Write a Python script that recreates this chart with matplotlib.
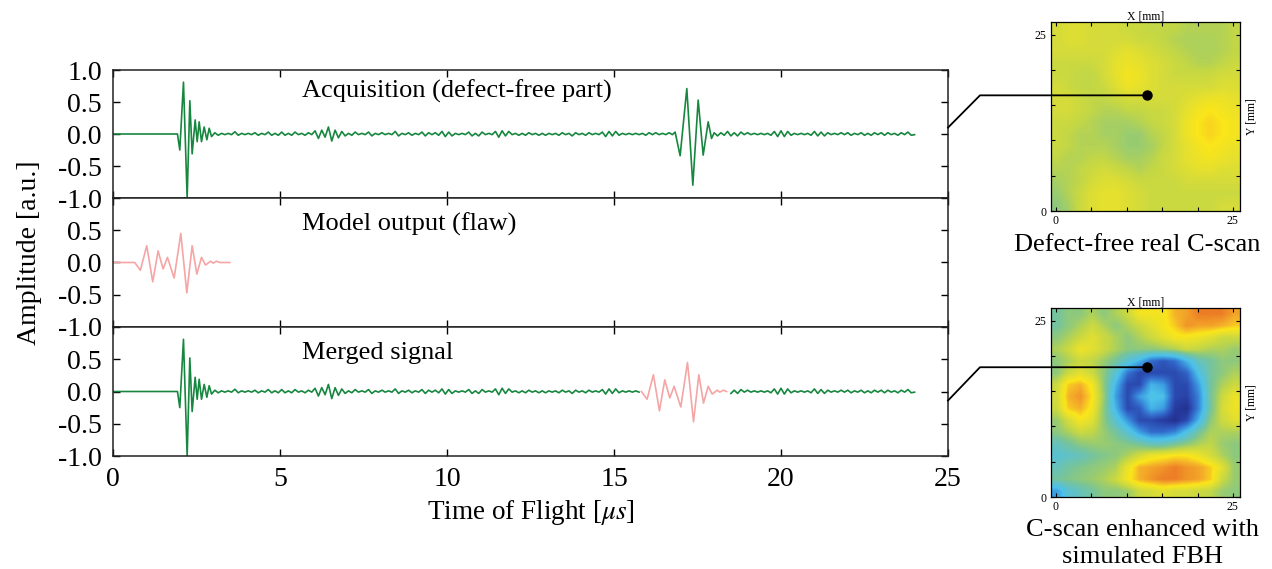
import numpy as np
import matplotlib
matplotlib.use("Agg")
import matplotlib.pyplot as plt
from matplotlib.colors import LinearSegmentedColormap
from matplotlib.lines import Line2D

plt.rcParams['font.family'] = ['Liberation Serif', 'DejaVu Serif']
plt.rcParams['mathtext.fontset'] = 'stix'
plt.rcParams['axes.unicode_minus'] = False

# ---------------- data ----------------
# acquisition, first echo (extrema: time [us], amplitude [a.u.])
pulse1_t = [0.0, 1.93, 2.00, 2.11, 2.22, 2.30, 2.37, 2.46, 2.52, 2.58, 2.65, 2.73, 2.81, 2.88, 2.95]
pulse1_a = [0.0, 0.0, -0.25, 0.81, -1.0, 0.52, -0.31, 0.22, -0.12, 0.19, -0.12, 0.11, -0.09, 0.09, -0.04]

# backscatter noise between the echoes, one extremum every 0.1 us from 3.05 us
noise1_start = 3.05
noise1_a = [0.02, -0.02, 0.01, -0.01, 0.01, -0.01, 0.035, -0.02, 0.01,
            -0.01, 0.01, -0.01, 0.02, -0.02, 0.01, -0.01, 0.03, -0.02, 0.01,
            -0.02, 0.03, -0.02, 0.01, -0.02, 0.03, -0.01, 0.01, -0.02, 0.02,
            -0.01, 0.05, -0.07, 0.06, -0.05, 0.11, -0.11, 0.06, -0.06, 0.04,
            -0.03, 0.01, -0.02, 0.03, -0.01, 0.01, -0.01, 0.03, -0.03, 0.01,
            -0.01, 0.02, -0.01, 0.01, -0.01, 0.04, -0.03, 0.01, -0.01, 0.02,
            -0.02, 0.01, -0.01, 0.03, -0.03, 0.02, -0.01, 0.02, -0.02, 0.04,
            -0.04, 0.03, -0.03, 0.01, -0.01, 0.01, -0.01, 0.03, -0.03, 0.01,
            -0.03, 0.03, -0.01, 0.01, -0.01, 0.04, -0.05, 0.05, -0.03, 0.04,
            -0.01, 0.01, -0.02, 0.01, -0.02, 0.02, -0.01, 0.01, -0.02, 0.01,
            -0.02, 0.01, -0.01, 0.01, -0.02, 0.02, -0.01, 0.01, -0.03, 0.02,
            -0.01, 0.01, -0.02, 0.02, -0.01, 0.01, -0.01, 0.03, -0.04, 0.04,
            -0.03, 0.04, -0.02, 0.01, -0.01, 0.01, -0.01, 0.01, -0.01, 0.01,
            -0.02, 0.02, -0.01, 0.02, -0.01, 0.01, -0.01, 0.02]

# back-wall echo
echo2_t = [16.75, 16.83, 16.98, 17.18, 17.36, 17.52, 17.67, 17.82, 17.92]
echo2_a = [-0.01, 0.03, -0.34, 0.71, -0.80, 0.53, -0.33, 0.19, -0.07]

# noise after the back-wall echo, every 0.1 us from 18.0 us
noise2_start = 18.0
noise2_a = [0.02, -0.03, 0.02, -0.02, 0.04, -0.03, 0.02, -0.03, 0.03, -0.01,
            0.02, -0.01, 0.01, -0.01, 0.01, -0.01, 0.01, -0.02, 0.04, -0.04,
            0.05, -0.04, 0.04, -0.02, 0.01, -0.01, 0.01, -0.01, 0.01, -0.02,
            0.04, -0.03, 0.03, -0.03, 0.02, -0.01, 0.01, -0.01, 0.02, -0.01,
            0.02, -0.02, 0.01, -0.01, 0.02, -0.02, 0.01, -0.02, 0.02, -0.01,
            0.02, -0.02, 0.02, -0.01, 0.01, -0.02, 0.02, -0.01, 0.03, -0.02,
            -0.01]

# model output (flaw echo)
model_t = [0.0, 0.65, 0.82, 1.01, 1.19, 1.35, 1.50, 1.63, 1.83, 2.03, 2.21, 2.37,
           2.51, 2.65, 2.77, 2.92, 3.00, 3.10, 3.20, 3.50]
model_a = [0.0, 0.0, -0.12, 0.26, -0.30, 0.18, -0.10, 0.08, -0.24, 0.45, -0.47, 0.26,
           -0.18, 0.08, -0.04, 0.02, -0.01, 0.02, 0.0, 0.0]

# merge: flaw echo placed at the back-wall echo position
flaw_shift = 15.17
merge_window = (15.80, 18.42)

# C-scans (normalised amplitude, rows from top)
cscan_free = [
    [0.72, 0.74, 0.74, 0.72, 0.72, 0.72, 0.70, 0.70, 0.68, 0.68, 0.68, 0.66, 0.66, 0.66, 0.66, 0.68],
    [0.72, 0.74, 0.74, 0.72, 0.72, 0.72, 0.72, 0.70, 0.70, 0.68, 0.66, 0.65, 0.65, 0.65, 0.66, 0.68],
    [0.72, 0.72, 0.72, 0.72, 0.72, 0.74, 0.76, 0.74, 0.72, 0.70, 0.68, 0.66, 0.65, 0.65, 0.66, 0.68],
    [0.70, 0.70, 0.70, 0.70, 0.72, 0.76, 0.78, 0.76, 0.74, 0.72, 0.70, 0.68, 0.66, 0.66, 0.68, 0.70],
    [0.70, 0.70, 0.68, 0.68, 0.72, 0.76, 0.80, 0.78, 0.74, 0.72, 0.70, 0.70, 0.70, 0.70, 0.72, 0.72],
    [0.72, 0.70, 0.68, 0.68, 0.70, 0.74, 0.78, 0.76, 0.74, 0.72, 0.72, 0.72, 0.72, 0.72, 0.74, 0.74],
    [0.72, 0.72, 0.70, 0.68, 0.68, 0.70, 0.72, 0.72, 0.72, 0.72, 0.72, 0.74, 0.76, 0.78, 0.78, 0.76],
    [0.72, 0.72, 0.70, 0.68, 0.66, 0.66, 0.68, 0.68, 0.70, 0.70, 0.72, 0.76, 0.80, 0.82, 0.80, 0.78],
    [0.70, 0.70, 0.68, 0.66, 0.64, 0.64, 0.64, 0.66, 0.68, 0.70, 0.72, 0.78, 0.82, 0.84, 0.82, 0.80],
    [0.70, 0.68, 0.66, 0.66, 0.64, 0.64, 0.62, 0.62, 0.66, 0.68, 0.72, 0.78, 0.82, 0.84, 0.82, 0.80],
    [0.70, 0.68, 0.66, 0.66, 0.66, 0.64, 0.62, 0.62, 0.64, 0.68, 0.72, 0.76, 0.80, 0.82, 0.80, 0.78],
    [0.68, 0.66, 0.66, 0.68, 0.68, 0.66, 0.64, 0.64, 0.66, 0.70, 0.72, 0.76, 0.78, 0.80, 0.78, 0.76],
    [0.66, 0.66, 0.68, 0.70, 0.72, 0.70, 0.68, 0.66, 0.68, 0.70, 0.72, 0.74, 0.76, 0.76, 0.74, 0.74],
    [0.64, 0.66, 0.68, 0.72, 0.74, 0.74, 0.72, 0.70, 0.70, 0.70, 0.70, 0.72, 0.72, 0.72, 0.72, 0.72],
    [0.62, 0.66, 0.70, 0.74, 0.76, 0.76, 0.74, 0.72, 0.70, 0.70, 0.70, 0.70, 0.70, 0.70, 0.70, 0.70],
    [0.60, 0.64, 0.70, 0.74, 0.76, 0.76, 0.74, 0.72, 0.70, 0.70, 0.70, 0.70, 0.70, 0.70, 0.72, 0.72],
]
cscan_fbh = [
    [0.55, 0.60, 0.60, 0.65, 0.60, 0.65, 0.70, 0.80, 0.80, 0.80, 0.88, 0.90, 0.95, 0.95, 0.95, 0.90],
    [0.55, 0.60, 0.65, 0.70, 0.65, 0.60, 0.65, 0.70, 0.75, 0.80, 0.85, 0.92, 0.90, 0.90, 0.88, 0.85],
    [0.60, 0.65, 0.70, 0.75, 0.70, 0.65, 0.60, 0.65, 0.70, 0.75, 0.80, 0.80, 0.78, 0.75, 0.70, 0.70],
    [0.65, 0.70, 0.78, 0.75, 0.70, 0.65, 0.60, 0.60, 0.60, 0.62, 0.65, 0.70, 0.68, 0.65, 0.65, 0.62],
    [0.60, 0.65, 0.70, 0.68, 0.62, 0.55, 0.45, 0.35, 0.20, 0.15, 0.20, 0.35, 0.50, 0.55, 0.60, 0.60],
    [0.60, 0.70, 0.75, 0.70, 0.60, 0.45, 0.22, 0.12, 0.12, 0.12, 0.12, 0.18, 0.40, 0.55, 0.60, 0.65],
    [0.70, 0.85, 0.88, 0.80, 0.60, 0.35, 0.12, 0.12, 0.35, 0.30, 0.12, 0.12, 0.30, 0.55, 0.65, 0.70],
    [0.72, 0.88, 0.92, 0.82, 0.62, 0.30, 0.12, 0.30, 0.40, 0.38, 0.12, 0.10, 0.25, 0.55, 0.70, 0.78],
    [0.70, 0.85, 0.88, 0.80, 0.60, 0.35, 0.12, 0.16, 0.35, 0.30, 0.08, 0.04, 0.25, 0.55, 0.72, 0.78],
    [0.62, 0.72, 0.80, 0.75, 0.60, 0.45, 0.28, 0.12, 0.12, 0.08, 0.04, 0.12, 0.35, 0.60, 0.70, 0.75],
    [0.60, 0.65, 0.70, 0.68, 0.62, 0.55, 0.45, 0.30, 0.20, 0.20, 0.25, 0.40, 0.55, 0.65, 0.65, 0.65],
    [0.50, 0.55, 0.60, 0.62, 0.62, 0.60, 0.58, 0.55, 0.50, 0.50, 0.55, 0.60, 0.65, 0.68, 0.62, 0.60],
    [0.45, 0.48, 0.50, 0.55, 0.58, 0.60, 0.65, 0.72, 0.78, 0.80, 0.82, 0.82, 0.78, 0.72, 0.65, 0.60],
    [0.50, 0.55, 0.58, 0.60, 0.62, 0.65, 0.78, 0.88, 0.90, 0.92, 0.95, 0.92, 0.90, 0.85, 0.75, 0.62],
    [0.55, 0.58, 0.60, 0.62, 0.65, 0.70, 0.80, 0.88, 0.92, 0.95, 0.95, 0.92, 0.90, 0.85, 0.70, 0.62],
    [0.30, 0.45, 0.50, 0.55, 0.60, 0.60, 0.62, 0.70, 0.72, 0.75, 0.72, 0.72, 0.70, 0.68, 0.62, 0.60],
]
# probe positions marked on the C-scans [mm]
probe_free = (12.9, 16.4)
probe_fbh = (12.9, 18.4)

xticks = [0, 5, 10, 15, 20, 25]
yticks = [-1.0, -0.5, 0.0, 0.5, 1.0]
ytick_labels = ['-1.0', '-0.5', '0.0', '0.5', '1.0']
panel_titles = ['Acquisition (defect-free part)', 'Model output (flaw)', 'Merged signal']

green = '#17873f'
pink = '#f5a5a5'

# ---------------- build signals ----------------
noise1_t = noise1_start + 0.1 * np.arange(len(noise1_a))
noise2_t = noise2_start + 0.1 * np.arange(len(noise2_a))
acq_t = np.concatenate([pulse1_t, noise1_t, echo2_t, noise2_t])
acq_a = np.concatenate([pulse1_a, noise1_a, echo2_a, noise2_a])
model_t = np.array(model_t)
model_a = np.array(model_a)

# ---------------- figure ----------------
W, H = 1272, 569
fig = plt.figure(figsize=(W / 100, H / 100), dpi=100)


def box(l, t, r, b):
    return [l / W, 1 - b / H, (r - l) / W, (b - t) / H]


tops = [70, 198, 327]
bots = [198, 327, 456]
axes = [fig.add_axes(box(113, t, 948, b)) for t, b in zip(tops, bots)]

axes[0].plot(acq_t, acq_a, color=green, lw=1.2)
axes[1].plot(model_t, model_a, color=pink, lw=1.2)

lo, hi = merge_window
m1 = acq_t <= lo
m2 = acq_t >= hi
axes[2].plot(acq_t[m1], acq_a[m1], color=green, lw=1.2)
axes[2].plot(acq_t[m2], acq_a[m2], color=green, lw=1.2)
fs = model_t + flaw_shift
mf = (fs >= lo) & (fs <= hi)
axes[2].plot(fs[mf], model_a[mf], color=pink, lw=1.2)

for i, ax in enumerate(axes):
    ax.set_xlim(0, 25)
    ax.set_ylim(-1, 1)
    ax.set_xticks(xticks)
    ax.set_yticks(yticks)
    labels = ytick_labels if i == 0 else ytick_labels[:-1] + ['']
    ax.set_yticklabels(labels)
    ax.tick_params(direction='in', top=True, right=True, length=5, width=1,
                   labelsize=20, pad=8)
    if i < 2:
        ax.tick_params(labelbottom=False)
    for s in ax.spines.values():
        s.set_linewidth(1.1)
        s.set_color('#222222')
    ax.text(0.226, 0.83 if i == 0 else 0.80, panel_titles[i], transform=ax.transAxes,
            fontsize=19, va='center', ha='left')

axes[2].set_xlabel(r'Time of Flight [$\mu s$]', fontsize=19.5, labelpad=4)
fig.text(30 / W, 1 - 253 / H, 'Amplitude [a.u.]', rotation=90, fontsize=20,
         ha='center', va='center')

# C-scan colormap (parula-like extended to orange)
cmap = LinearSegmentedColormap.from_list('cscan', [
    (0.00, (0.12, 0.15, 0.50)),
    (0.10, (0.16, 0.26, 0.66)),
    (0.20, (0.20, 0.42, 0.80)),
    (0.30, (0.24, 0.62, 0.88)),
    (0.38, (0.30, 0.76, 0.92)),
    (0.48, (0.38, 0.76, 0.78)),
    (0.56, (0.47, 0.77, 0.60)),
    (0.62, (0.60, 0.80, 0.44)),
    (0.68, (0.76, 0.84, 0.28)),
    (0.76, (0.90, 0.88, 0.18)),
    (0.82, (0.98, 0.90, 0.10)),
    (0.88, (0.96, 0.70, 0.16)),
    (0.95, (0.93, 0.50, 0.15)),
    (1.00, (0.90, 0.35, 0.12)),
])

cax1 = fig.add_axes(box(1051, 22, 1240, 211))
cax2 = fig.add_axes(box(1051, 308, 1240, 497))
for cax, grid, probe in [(cax1, cscan_free, probe_free), (cax2, cscan_fbh, probe_fbh)]:
    cax.imshow(np.array(grid), cmap=cmap, vmin=0, vmax=1, interpolation='bilinear',
               extent=(-0.7, 26.0, 0.0, 26.8), aspect='auto')
    cax.set_xlim(-0.7, 26.0)
    cax.set_ylim(0.0, 26.8)
    cax.set_xticks([0, 5, 10, 15, 20, 25])
    cax.set_yticks([0, 5, 10, 15, 20, 25])
    cax.set_xticklabels(['0', '', '', '', '', '25'])
    cax.set_yticklabels(['0', '', '', '', '', '25'])
    cax.tick_params(direction='in', top=True, right=True, length=3, width=0.8,
                    labelsize=8.5, pad=3)
    cax.set_title('X [mm]', fontsize=8.5, pad=2)
    cax.yaxis.set_label_position('right')
    cax.set_ylabel('Y [mm]', fontsize=8.5, rotation=90, labelpad=4)
    for s in cax.spines.values():
        s.set_linewidth(0.9)
    cax.plot(*probe, 'o', color='black', ms=6.5, clip_on=False, zorder=5)

# connectors from the signals to the probe positions
inv = fig.transFigure.inverted()
for ax, start_amp, cax, probe in [(axes[0], 0.1, cax1, probe_free),
                                   (axes[2], -0.14, cax2, probe_fbh)]:
    x0, y0 = ax.transData.transform((25, start_amp))
    x2, y2 = cax.transData.transform(probe)
    pts = inv.transform([(x0, y0), (x0 + 32, y2), (x2, y2)])
    fig.add_artist(Line2D(pts[:, 0], pts[:, 1], color='black', lw=1.3))

fig.text(1137 / W, 1 - 245 / H, 'Defect-free real C-scan', fontsize=19,
         ha='center', va='center')
fig.text(1142 / W, 1 - 519 / H, 'C-scan enhanced with\nsimulated FBH', fontsize=19,
         ha='center', va='top', linespacing=1.3)

fig.savefig('out.png', dpi=100)
